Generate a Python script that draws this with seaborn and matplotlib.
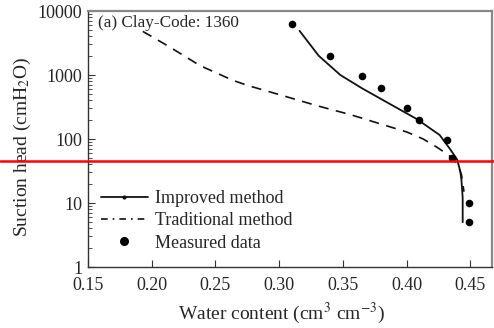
import matplotlib
matplotlib.use("Agg")
import matplotlib.pyplot as plt
import seaborn as sns
import pandas as pd
from matplotlib.lines import Line2D

# Measured data
meas_theta = [0.310, 0.340, 0.365, 0.380, 0.400, 0.410, 0.432, 0.436, 0.449, 0.449]
meas_h = [6200, 1950, 970, 620, 308, 197, 98, 50, 10, 5]

# Improved method curve
imp_theta = [0.316, 0.331, 0.348, 0.365, 0.382, 0.408, 0.426, 0.434, 0.4396, 0.442, 0.443, 0.444, 0.444]
imp_h = [4900, 2000, 1000, 620, 400, 205, 115, 70, 48, 32, 23, 12, 5]

# Traditional method curve
tra_theta = [0.193, 0.212, 0.238, 0.264, 0.276, 0.303, 0.330, 0.356, 0.382, 0.400, 0.413, 0.424, 0.434, 0.440, 0.443, 0.445]
tra_h = [4800, 2900, 1400, 820, 680, 475, 330, 240, 166, 129, 100, 74, 54, 40, 28, 15]

xticks = [0.15, 0.20, 0.25, 0.30, 0.35, 0.40, 0.45]
yticks = [1, 10, 100, 1000, 10000]

sns.set_style("ticks")
plt.rcParams['font.family'] = ['Liberation Serif', 'DejaVu Serif']
plt.rcParams['mathtext.fontset'] = 'stix'

fig = plt.figure(figsize=(4.94, 3.28), dpi=100)
ax = fig.add_axes([88/494, 1-267/328, 404/494, (267-11)/328])

df_imp = pd.DataFrame({"theta": imp_theta, "h": imp_h})
df_tra = pd.DataFrame({"theta": tra_theta, "h": tra_h})
df_meas = pd.DataFrame({"theta": meas_theta, "h": meas_h})

sns.lineplot(data=df_imp, x="theta", y="h", sort=False, estimator=None, ax=ax,
             color="#111111", lw=1.3, legend=False)
sns.lineplot(data=df_tra, x="theta", y="h", sort=False, estimator=None, ax=ax,
             color="#111111", lw=1.2, dashes=False, legend=False)
ax.lines[-1].set_dashes([6, 4.5])
sns.scatterplot(data=df_meas, x="theta", y="h", ax=ax, color="black", s=30,
                edgecolor="black", linewidth=0, legend=False, zorder=5)

ax.set_yscale("log")
ax.set_xlim(0.15, 0.467)
ax.set_ylim(1, 10000)
ax.set_xticks(xticks)
ax.set_xticklabels([f"{v:.2f}" for v in xticks])
ax.set_yticks(yticks)
ax.set_yticklabels([str(v) for v in yticks])
ax.tick_params(axis="both", which="major", direction="in", labelsize=13, length=5, color="#333333")
ax.tick_params(axis="x", which="major", pad=7)
ax.tick_params(axis="y", which="major", pad=4)
ax.tick_params(axis="y", which="minor", direction="in", length=3, color="#333333")
ax.tick_params(axis="x", which="minor", bottom=False)

for s in ["left", "bottom"]:
    ax.spines[s].set_color("#333333")
    ax.spines[s].set_linewidth(1.0)
for s in ["top", "right"]:
    ax.spines[s].set_color("#888888")
    ax.spines[s].set_linewidth(1.6)

ax.set_xlabel("Water content (cm$^3$ cm$^{-3}$)", fontsize=14)
ax.xaxis.set_label_coords(0.48, -0.13)
ax.set_ylabel("Suction head (cmH$_2$O)", fontsize=14)
ax.yaxis.set_label_coords(-0.135, 0.47)
ax.text(0.025, 0.985, "(a) Clay-Code: 1360", transform=ax.transAxes, ha="left", va="top", fontsize=12.3)

handles = [
    Line2D([], [], color="#111111", lw=1.3, marker="o", markersize=2),
    Line2D([], [], color="#111111", lw=1.2, linestyle=(0, (4, 3, 1, 3))),
    Line2D([], [], color="black", lw=0, marker="o", markersize=5.5),
]
ax.legend(handles, ["Improved method", "Traditional method", "Measured data"],
          loc="lower left", bbox_to_anchor=(0.0, 0.01), frameon=False,
          fontsize=13, handlelength=2.6, handletextpad=0.4, labelspacing=0.3,
          borderaxespad=0.3)

ax.axhline(45, xmin=-88/404, xmax=1.01, color="red", lw=1.8, clip_on=False, zorder=10)

fig.savefig("out.png", dpi=100)
